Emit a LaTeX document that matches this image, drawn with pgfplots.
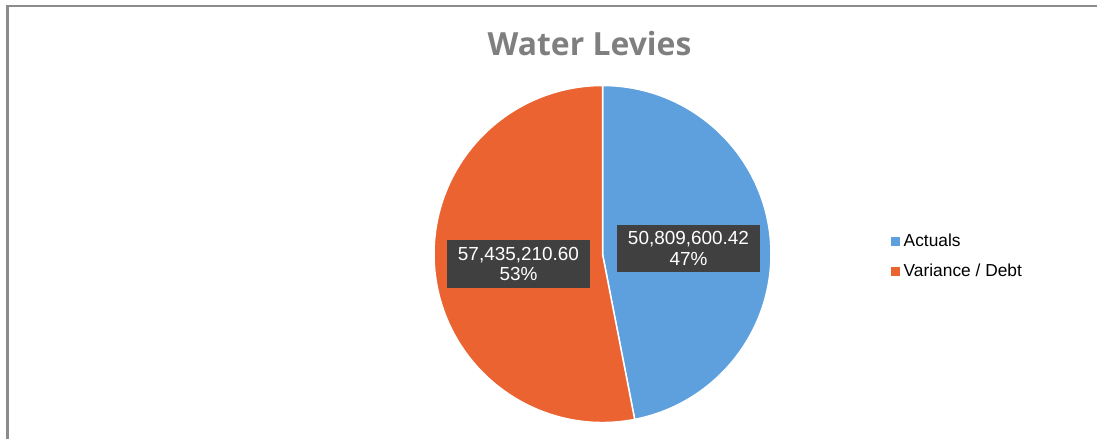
\documentclass[border=0pt]{standalone}
\usepackage{pgfplots}
\pgfplotsset{compat=1.18}
\usepackage{pgfplotstable}
\usepackage{fontspec}
\setmainfont{Liberation Sans}
\newfontfamily\titlefont{Open Sans}
\definecolor{actblue}{HTML}{5EA0DD}
\definecolor{varorange}{HTML}{EA6330}
\definecolor{lblgray}{HTML}{404040}
\definecolor{titlegray}{HTML}{7F7F7F}
\definecolor{framegray}{HTML}{8C8C8C}

\pgfplotstableread[col sep=comma]{
label,value
Actuals,50809600.42
Variance / Debt,57435210.60
}\piedata
\pgfplotstablegetelem{0}{value}\of\piedata \let\valA\pgfplotsretval
\pgfplotstablegetelem{1}{value}\of\piedata \let\valB\pgfplotsretval
\edef\angA{\fpeval{360*\valA/(\valA+\valB)}}
\edef\pctA{\fpeval{round(100*\valA/(\valA+\valB))}}
\edef\pctB{\fpeval{round(100*\valB/(\valA+\valB))}}

\begin{document}
\begin{tikzpicture}
\begin{axis}[
  at={(0,0)}, anchor=south west,
  scale only axis, x=1bp, y=1bp,
  xmin=0, xmax=1097, ymin=0, ymax=439,
  hide axis, clip=false,
  title={\titlefont\bfseries Water Levies},
  title style={at={(0.5374,0.8873)}, anchor=center, text=titlegray,
    font=\fontsize{32}{36}\selectfont},
  legend style={at={(axis cs:890.5,206)}, anchor=north west,
    draw=none, fill=none, inner sep=0pt,
    font=\fontsize{17.4}{20}\selectfont,
    nodes={inner sep=0pt, text height=13bp, text depth=4bp},
    row sep=13bp,
    /tikz/every odd column/.style={column sep=4bp}},
  legend cell align=left,
  legend image code/.code={\fill[#1, draw=none] (0bp,-4.5bp) rectangle (9bp,4.5bp);},
]
% frame (partly outside the picture, as in the reference)
\draw[framegray, line width=2.5bp] (axis cs:7.5,-5) -- (axis cs:7.5,433) -- (axis cs:1105,433);
% slices
\fill[actblue, draw=white, line width=1.5bp] (axis cs:602.5,185) -- ++(90:168.5bp)
  arc[start angle=90, end angle={90-\angA}, radius=168.5bp] -- cycle;
\fill[varorange, draw=white, line width=1.5bp] (axis cs:602.5,185) -- ++({90-\angA}:168.5bp)
  arc[start angle={90-\angA}, end angle=-270, radius=168.5bp] -- cycle;
% data labels
\node[fill=lblgray, text=white, align=center, minimum width=143bp, minimum height=47bp,
  inner sep=0pt, font=\fontsize{19}{21}\selectfont] at (axis cs:688.5,190.5)
  {50,809,600.42\\\pctA\%};
\node[fill=lblgray, text=white, align=center, minimum width=143bp, minimum height=48bp,
  inner sep=0pt, font=\fontsize{19}{21}\selectfont] at (axis cs:518.5,175)
  {57,435,210.60\\\pctB\%};
\addlegendimage{fill=actblue}
\addlegendentry{Actuals}
\addlegendimage{fill=varorange}
\addlegendentry{Variance / Debt}
\end{axis}
\pgfresetboundingbox
\path (0,0) rectangle (1097bp,439bp);
\end{tikzpicture}
\end{document}
